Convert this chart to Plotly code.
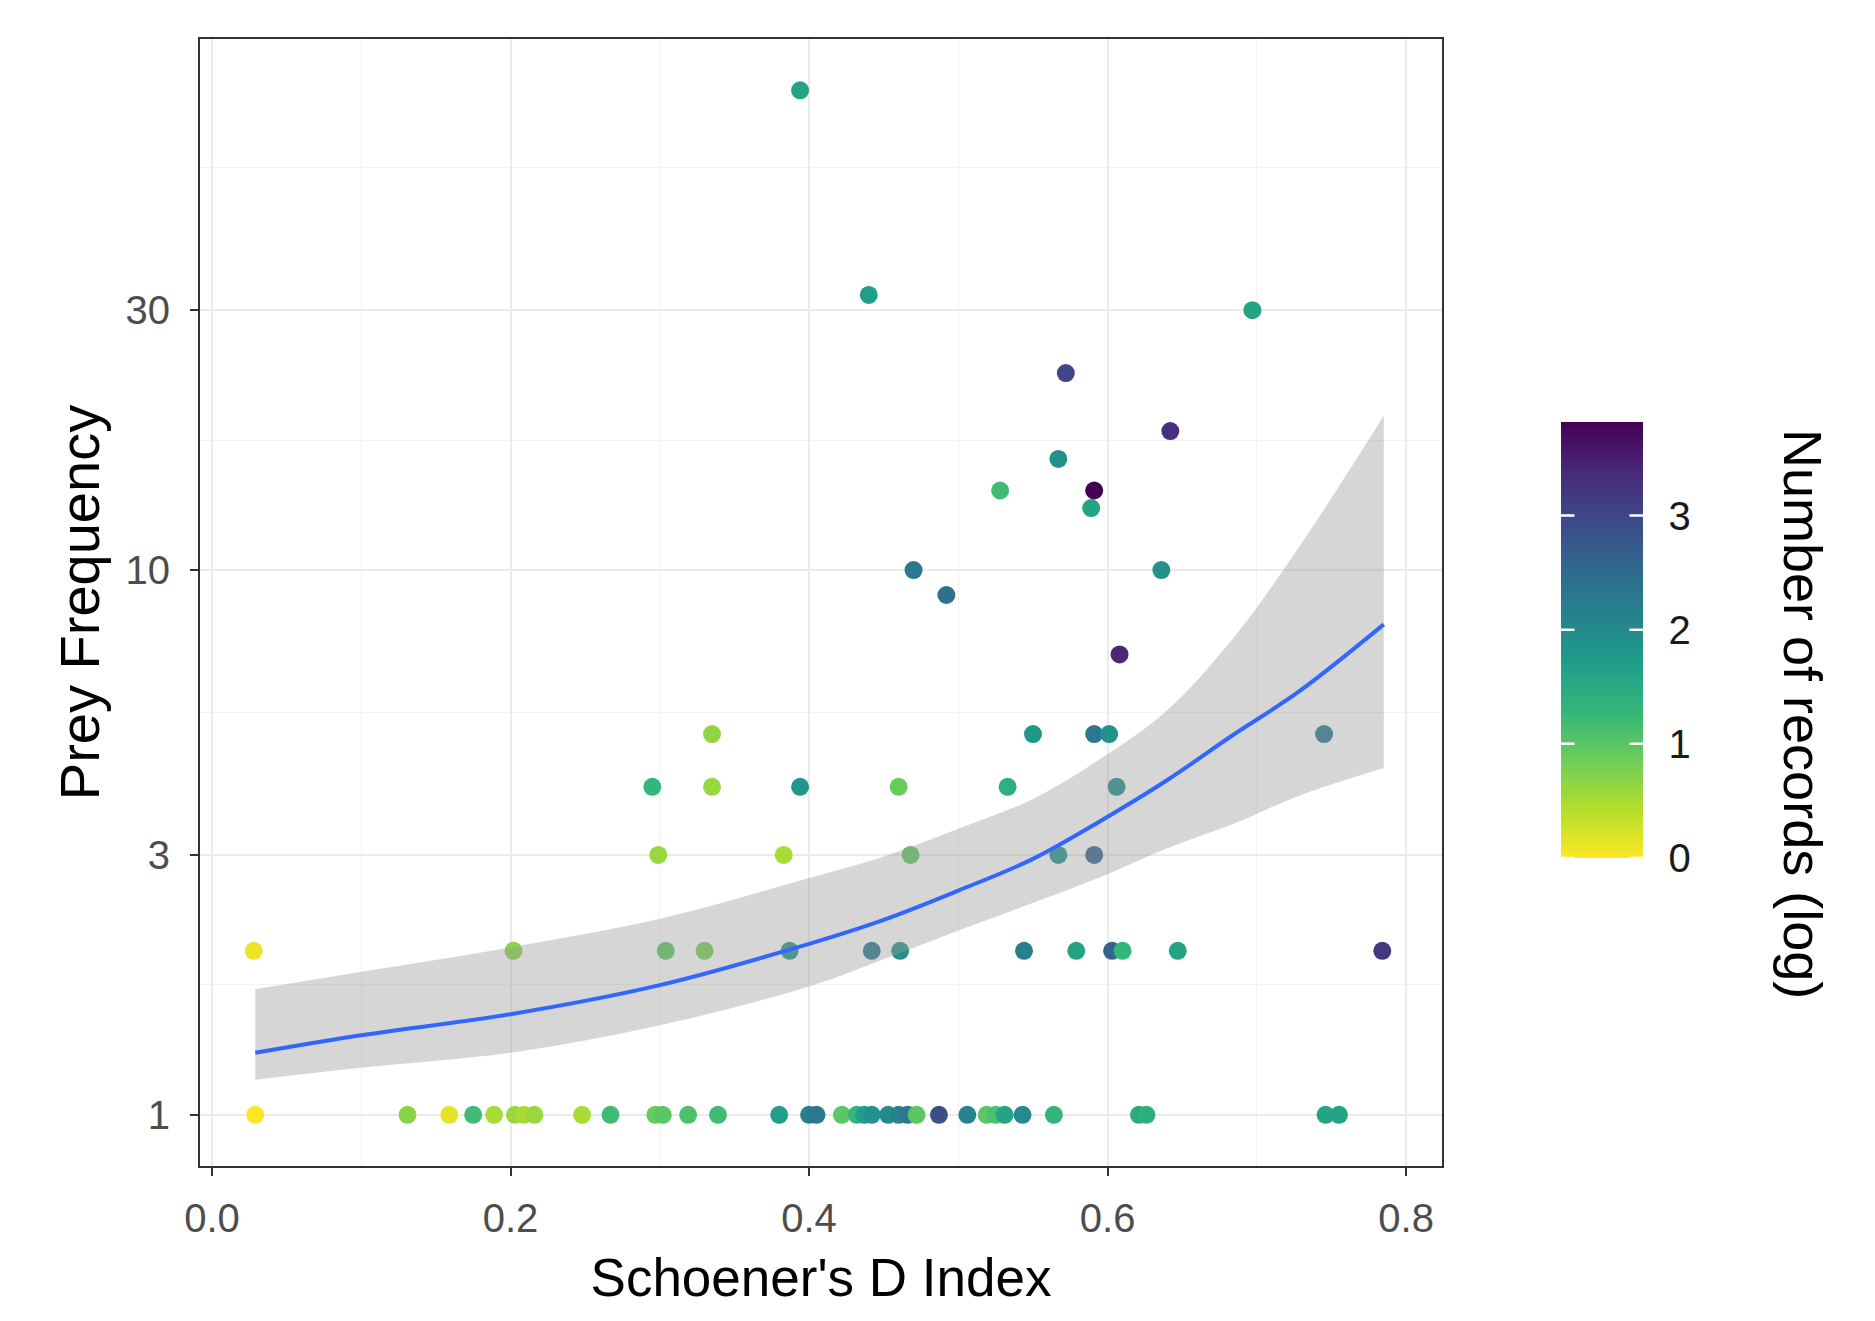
import plotly.graph_objects as go

# ---------------- data ----------------
schoener_d = [
    # prey frequency 1
    0.029, 0.131, 0.159, 0.175, 0.189, 0.203, 0.209, 0.216, 0.248, 0.267, 0.297, 0.302,
    0.319, 0.339, 0.380, 0.400, 0.405, 0.422, 0.432, 0.437, 0.442, 0.453, 0.460, 0.466,
    0.472, 0.487, 0.506, 0.519, 0.525, 0.531, 0.543, 0.564, 0.621, 0.626, 0.746, 0.755,
    # prey frequency 2
    0.028, 0.202, 0.304, 0.330, 0.387, 0.442, 0.461, 0.544, 0.579, 0.603, 0.610, 0.647, 0.784,
    # 3
    0.299, 0.383, 0.468, 0.567, 0.591,
    # 4
    0.295, 0.335, 0.394, 0.460, 0.533, 0.606,
    # 5
    0.335, 0.550, 0.591, 0.601, 0.745,
    # higher
    0.608, 0.492, 0.470, 0.636, 0.589, 0.528, 0.591, 0.567, 0.642, 0.572, 0.697, 0.440, 0.394,
]
prey_freq = (
    [1] * 36
    + [2] * 13
    + [3] * 5
    + [4] * 6
    + [5] * 5
    + [7, 9, 10, 10, 13, 14, 14, 16, 18, 23, 30, 32, 76]
)
log_records = [
    0.0, 0.7, 0.15, 1.2, 0.5, 0.6, 0.5, 0.6, 0.5, 1.2, 0.9, 1.0,
    1.1, 1.2, 1.7, 2.2, 2.3, 1.0, 1.3, 1.7, 1.9, 2.0, 2.1, 2.3,
    1.0, 2.9, 2.1, 1.0, 1.1, 1.6, 2.0, 1.3, 1.5, 1.4, 1.6, 1.6,
    0.1, 0.7, 1.0, 0.8, 1.8, 2.3, 1.9, 2.2, 1.6, 2.6, 1.3, 1.6, 3.2,
    0.6, 0.5, 1.0, 1.9, 2.6,
    1.3, 0.6, 1.8, 0.9, 1.4, 2.0,
    0.65, 1.8, 2.3, 1.9, 2.3,
    3.4, 2.4, 2.3, 1.9, 1.6, 1.2, 3.82, 1.9, 3.3, 3.0, 1.6, 1.7, 1.6,
]

# smoother (fit and confidence band)
fit_x = [0.029, 0.1, 0.2, 0.3, 0.4, 0.45, 0.5, 0.55, 0.595, 0.639, 0.684, 0.728, 0.785]
fit_y = [1.30, 1.40, 1.53, 1.73, 2.06, 2.28, 2.58, 2.95, 3.46, 4.10, 4.98, 5.98, 7.95]
fit_hi = [1.70, 1.83, 2.03, 2.29, 2.72, 2.98, 3.35, 3.80, 4.50, 5.50, 7.49, 11.0, 19.2]
fit_lo = [1.16, 1.22, 1.30, 1.46, 1.72, 1.93, 2.18, 2.45, 2.73, 3.08, 3.42, 3.85, 4.33]

x_ticks = [0.0, 0.2, 0.4, 0.6, 0.8]
x_tick_text = ["0.0", "0.2", "0.4", "0.6", "0.8"]
x_minor = [0.1, 0.3, 0.5, 0.7]
y_ticks = [1, 3, 10, 30]
y_tick_text = ["1", "3", "10", "30"]
y_minor = [1.732, 5.477, 17.32, 54.77]
cbar_ticks = [0, 1, 2, 3]

# ---------------- figure ----------------
W, H = 1875, 1321
ML, MR, MT, MB = 192, 441, 31, 163
PW, PH = W - ML - MR, H - MT - MB
FONT = "Liberation Sans, Arial, sans-serif"

# colour bar geometry (pixels)
CB_LEFT, CB_THICK, CB_MID, CB_LEN = 1553, 82, 632, 436
cmin, cmax = 0, max(log_records)

fig = go.Figure()

fig.add_trace(go.Scatter(
    x=schoener_d, y=prey_freq, mode="markers",
    marker=dict(
        size=18, color=log_records, colorscale="Viridis", reversescale=True,
        cmin=cmin, cmax=cmax, line=dict(width=0),
        colorbar=dict(
            thickness=CB_THICK, len=CB_LEN, lenmode="pixels",
            x=(CB_LEFT - ML) / PW, xanchor="left", xpad=0,
            y=1 - (CB_MID - MT) / PH, yanchor="middle", ypad=0,
            outlinewidth=0, tickvals=cbar_ticks,
            ticks="outside", ticklen=18, tickwidth=1, tickcolor="rgba(0,0,0,0)",
            tickfont=dict(family=FONT, size=40, color="#1a1a1a"),
        ),
    ),
    showlegend=False, hoverinfo="x+y",
))

# confidence band
fig.add_trace(go.Scatter(
    x=fit_x, y=fit_lo, mode="lines", line=dict(width=0, shape="spline"),
    showlegend=False, hoverinfo="skip",
))
fig.add_trace(go.Scatter(
    x=fit_x, y=fit_hi, mode="lines", line=dict(width=0, shape="spline"),
    fill="tonexty", fillcolor="rgba(153,153,153,0.4)",
    showlegend=False, hoverinfo="skip",
))
# fitted line
fig.add_trace(go.Scatter(
    x=fit_x, y=fit_y, mode="lines", line=dict(color="#3366FF", width=4, shape="spline"),
    showlegend=False, hoverinfo="skip",
))

# white tick marks on both edges of the colour bar (ggplot style), drawn as
# arrow-only annotations so they sit above the colour bar
cb_bottom = CB_MID + CB_LEN / 2
for v in cbar_ticks:
    py = cb_bottom - (v - cmin) / (cmax - cmin) * CB_LEN
    yp = 1 - (py - MT) / PH
    for xpix, dx in [(CB_LEFT, 15), (CB_LEFT + CB_THICK, -15)]:
        fig.add_annotation(
            xref="paper", yref="paper", x=(xpix - ML) / PW, y=yp,
            ax=dx, ay=0, text="", showarrow=True, arrowhead=0,
            arrowcolor="white", arrowwidth=2.5, standoff=0, startstandoff=0,
        )

axis_common = dict(
    showline=True, linecolor="#333333", linewidth=2, mirror=True,
    ticks="outside", ticklen=8, tickwidth=2, tickcolor="#333333",
    gridcolor="#EBEBEB", gridwidth=2, zeroline=False,
    tickfont=dict(family=FONT, size=40, color="#4D4D4D"),
)

fig.update_xaxes(
    **axis_common,
    range=[-0.008, 0.824], tickvals=x_ticks, ticktext=x_tick_text,
    minor=dict(tickvals=x_minor, showgrid=True, gridcolor="#F2F2F2", gridwidth=1, ticks=""),
    title=dict(text="Schoener's D Index", font=dict(family=FONT, size=53, color="black"), standoff=20),
    ticklabelstandoff=8,
)
fig.update_yaxes(
    **axis_common,
    type="log", range=[-0.094, 1.975], tickvals=y_ticks, ticktext=y_tick_text,
    minor=dict(tickvals=y_minor, showgrid=True, gridcolor="#F2F2F2", gridwidth=1, ticks=""),
    title=dict(text="Prey Frequency", font=dict(family=FONT, size=56, color="black"), standoff=8),
    ticklabelstandoff=12,
)

fig.add_annotation(
    text="Number of records (log)", textangle=90, showarrow=False,
    xref="paper", yref="paper",
    x=(1795 - ML) / PW, y=1 - (706 - MT) / PH,
    xanchor="center", yanchor="middle",
    font=dict(family=FONT, size=54, color="black"),
)

fig.update_layout(
    width=W, height=H,
    margin=dict(l=ML, r=MR, t=MT, b=MB, autoexpand=False),
    paper_bgcolor="white", plot_bgcolor="white",
    font=dict(family=FONT),
)

fig.write_html("out.html")
